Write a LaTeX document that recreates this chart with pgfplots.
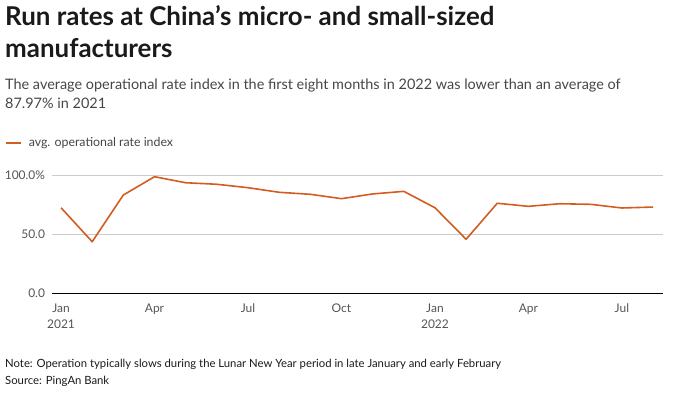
\documentclass[border=0pt]{standalone}
\usepackage{fontspec}
\setmainfont{Lato}
\usepackage{pgfplots}
\pgfplotsset{compat=1.18}
\definecolor{lineor}{RGB}{209,94,32}
\definecolor{gridc}{RGB}{204,204,204}
\definecolor{ticktxt}{RGB}{85,85,85}
\definecolor{subt}{RGB}{70,70,70}
\definecolor{titlec}{RGB}{26,26,26}
\begin{document}
\begin{tikzpicture}[x=1bp,y=1bp]
\useasboundingbox (0,0) rectangle (673,392);
\node[anchor=base west,inner sep=0,text=titlec,font=\fontsize{26}{30}\selectfont\bfseries] at (5,392-25) {Run rates at China's micro- and small-sized};
\node[anchor=base west,inner sep=0,text=titlec,font=\fontsize{26}{30}\selectfont\bfseries] at (5,392-57) {manufacturers};
\node[anchor=base west,inner sep=0,text=subt,font=\fontsize{14.5}{17}\selectfont] at (5,392-89) {The average operational rate index in the first eight months in 2022 was lower than an average of};
\node[anchor=base west,inner sep=0,text=subt,font=\fontsize{14.5}{17}\selectfont] at (5,392-108) {87.97\% in 2021};
\node[anchor=base west,inner sep=0,text=titlec,font=\fontsize{11.35}{14}\selectfont] at (5,392-367) {Note: Operation typically slows during the Lunar New Year period in late January and early February};
\node[anchor=base west,inner sep=0,text=titlec,font=\fontsize{11.35}{14}\selectfont] at (5,392-384) {Source: PingAn Bank};
\begin{axis}[
  at={(51.7bp,98.7bp)}, anchor=south west,
  scale only axis, width=611.3bp, height=118bp,
  xmin=-0.3, xmax=19.32, ymin=0, ymax=100,
  clip=false,
  axis x line=bottom, axis y line*=left,
  x axis line style={black,line width=1.1bp,-},
  y axis line style={draw=none},
  xtick={0,3,6,9,12,15,18},
  xticklabels={Jan\\2021,Apr,Jul,Oct,Jan\\2022,Apr,Jul},
  ytick={0,50,100},
  yticklabels={0.0,50.0,100.0\%},
  major tick length=0,
  ymajorgrids, grid style={gridc,line width=0.8bp},
  xticklabel style={align=center,font=\fontsize{12}{16}\selectfont,text=ticktxt,yshift=-7bp},
  yticklabel style={font=\fontsize{12}{14}\selectfont,text=ticktxt,anchor=east,inner sep=0,xshift=-6.5bp},
  /pgf/number format/assume math mode=true,
  legend style={at={(-0.0764,1.2737)},anchor=west,draw=none,fill=none,font=\fontsize{12.4}{14}\selectfont,text=subt,inner sep=0},
  legend image code/.code={\draw[#1] (0bp,0bp) -- (15bp,0bp);},
]
\addplot[lineor,line width=1.6bp,line join=round] coordinates {
(0,72.5) (1,43.7) (2,83.3) (3,98.8) (4,93.7) (5,92.4) (6,89.5) (7,85.6) (8,83.9) (9,80.2) (10,84.2) (11,86.4)
(12,72.5) (13,45.8) (14,76.3) (15,73.7) (16,75.9) (17,75.4) (18,72.3) (19,73.1)
};
\addlegendentry{\hspace{5bp}avg. operational rate index}
\end{axis}
\end{tikzpicture}
\end{document}
